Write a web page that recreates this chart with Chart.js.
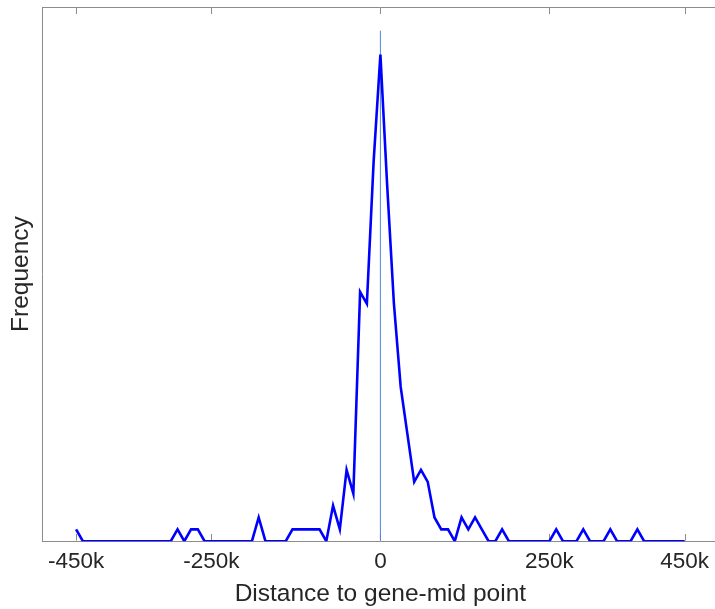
<!DOCTYPE html>
<html>
<head>
<meta charset="utf-8">
<script src="https://cdn.jsdelivr.net/npm/chart.js@4"></script>
<style>
    html, body { margin: 0; padding: 0; background: #fff; overflow: hidden; }
    canvas { display: block; }
</style>
</head>
<body>
<canvas id="freqChart" width="720" height="609"></canvas>
<script>
// bin centres, in k (distance to gene mid-point)
const distances = [
    -450, -440, -430, -420, -410, -400, -390, -380, -370, -360,
    -350, -340, -330, -320, -310, -300, -290, -280, -270, -260,
    -250, -240, -230, -220, -210, -200, -190, -180, -170, -160,
    -150, -140, -130, -120, -110, -100, -90, -80, -70, -60,
    -50, -40, -30, -20, -10, 0, 10, 20, 30, 40,
    50, 60, 70, 80, 90, 100, 110, 120, 130, 140,
    150, 160, 170, 180, 190, 200, 210, 220, 230, 240,
    250, 260, 270, 280, 290, 300, 310, 320, 330, 340,
    350, 360, 370, 380, 390, 400, 410, 420, 430, 440,
    450
];

const frequencies = [
    1, 0, 0, 0, 0, 0, 0, 0, 0, 0, 0, 0, 0, 0, 0,   // -450 .. -310
    1, 0, 1, 1, 0, 0, 0, 0, 0, 0, 0, 0,            // -300 .. -190
    2, 0, 0, 0, 0, 1, 1, 1, 1, 1, 0,               // -180 .. -80
    3, 1, 6, 4, 21, 20, 32,                        // -70 .. -10
    41,                                            // 0
    30, 20, 13, 9, 5, 6, 5, 2, 1, 1,               // 10 .. 100
    0, 2, 1, 2, 1, 0, 0, 1, 0, 0,                  // 110 .. 200
    0, 0, 0, 0, 0, 1, 0, 0, 0, 1,                  // 210 .. 300
    0, 0, 0, 1, 0, 0, 0, 1, 0, 0,                  // 310 .. 400
    0, 0, 0, 0, 0                                  // 410 .. 450
];

const tickValues = [-450, -250, 0, 250, 450];
const tickLabels = ['-450k', '-250k', '0', '250k', '450k'];

// thin reference line at the gene mid-point
const midLineX = [0, 0];
const midLineY = [0, 43];

const axisColor = '#8c8c8c';
const textColor = '#262626';
const fontFamily = '"Liberation Sans", Arial, Helvetica, sans-serif';

// box on top/right plus inward tick marks, like the original figure
const frameTicks = {
    id: 'frameTicks',
    beforeDatasetsDraw(chart) {
        const { ctx, chartArea, scales } = chart;
        const top = Math.round(chartArea.top) + 0.5;
        const bottom = Math.round(chartArea.bottom) - 0.5;
        const right = Math.round(chartArea.right) - 0.5;
        ctx.save();
        ctx.strokeStyle = axisColor;
        ctx.lineWidth = 1;
        ctx.beginPath();
        ctx.moveTo(chartArea.left, top);
        ctx.lineTo(right, top);
        ctx.lineTo(right, bottom);
        tickValues.forEach(v => {
            const px = Math.round(scales.x.getPixelForValue(v)) + 0.5;
            ctx.moveTo(px, bottom);
            ctx.lineTo(px, bottom - 6.5);
            ctx.moveTo(px, top);
            ctx.lineTo(px, top + 6.5);
        });
        ctx.stroke();
        ctx.restore();
    }
};

const ctx = document.getElementById('freqChart').getContext('2d');

const freqChart = new Chart(ctx, {
    type: 'line',
    data: {
        datasets: [
            {
                label: 'Frequency',
                data: distances.map((d, i) => ({ x: d, y: frequencies[i] })),
                borderColor: '#0000ff',
                borderWidth: 2.6,
                pointRadius: 0,
                tension: 0,
                fill: false,
                order: 1
            },
            {
                label: 'mid point',
                data: midLineX.map((x, i) => ({ x: x, y: midLineY[i] })),
                borderColor: '#4f86d9',
                borderWidth: 1,
                pointRadius: 0,
                fill: false,
                order: 2
            }
        ]
    },
    options: {
        responsive: false,
        animation: false,
        layout: {
            padding: { top: 7, right: 1.5, bottom: 0, left: 0 }
        },
        plugins: {
            legend: { display: false },
            tooltip: { enabled: false }
        },
        scales: {
            x: {
                type: 'linear',
                min: -500,
                max: 500,
                afterBuildTicks: scale => {
                    scale.ticks = tickValues.map(v => ({ value: v }));
                },
                grid: { display: false, drawTicks: false },
                border: { display: true, color: axisColor, width: 1 },
                ticks: {
                    padding: 7.5,
                    color: textColor,
                    maxRotation: 0,
                    autoSkip: false,
                    font: { family: fontFamily, size: 22.5 },
                    callback: (value, index) => tickLabels[index]
                },
                title: {
                    display: true,
                    text: 'Distance to gene-mid point',
                    color: textColor,
                    font: { family: fontFamily, size: 24.5 },
                    padding: { top: -3.2, bottom: -0.4 }
                }
            },
            y: {
                min: 0,
                max: 45,
                grid: { display: false, drawTicks: false },
                border: { display: true, color: axisColor, width: 1 },
                ticks: { display: false },
                title: {
                    display: true,
                    text: 'Frequency',
                    color: textColor,
                    font: { family: fontFamily, size: 24.5 },
                    padding: { top: 6.8, bottom: 6.1 }
                }
            }
        }
    },
    plugins: [frameTicks]
});
</script>
</body>
</html>
